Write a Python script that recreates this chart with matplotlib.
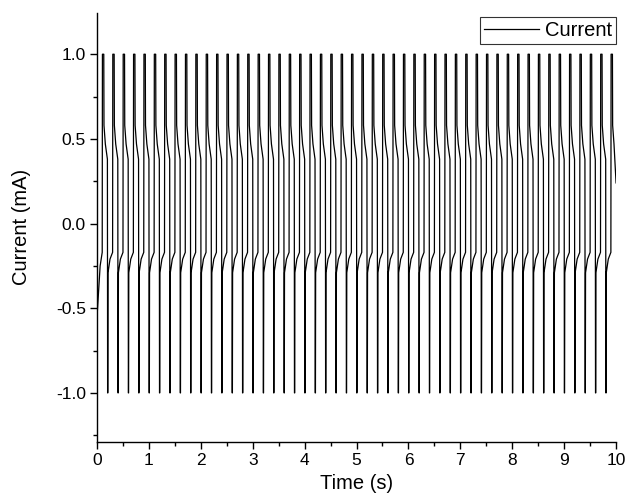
import numpy as np
import matplotlib
matplotlib.use("Agg")
import matplotlib.pyplot as plt
from matplotlib.ticker import MultipleLocator

plt.rcParams['font.family'] = ['Liberation Sans', 'DejaVu Sans']

# one period of the waveform (time offset from cycle start, s)
cycle_t = [0.000, 0.004, 0.030, 0.034, 0.060, 0.100, 0.104, 0.108, 0.112, 0.150]
cycle_i = [-0.17, 1.00, 1.00, 0.58, 0.47, 0.38, -1.00, -1.00, -0.29, -0.21]
period = 0.2
n_cycles = 50
first_cycle = 0.10

# lead-in before the first cycle and the tail at the end
start_t = [0.00, 0.03, 0.06]
start_i = [-0.55, -0.40, -0.25]
end_t = [10.00]
end_i = [0.24]

t = list(start_t)
cur = list(start_i)
for k in range(n_cycles):
    t0 = first_cycle + k * period
    for dt, v in zip(cycle_t, cycle_i):
        if t0 + dt < 10.0:
            t.append(t0 + dt)
            cur.append(v)
t += end_t
cur += end_i

fig = plt.figure(figsize=(6.28, 4.99), dpi=100)
ax = fig.add_axes([0.1545, 0.1142, 0.8265, 0.8603])
ax.plot(t, cur, color='black', lw=0.9, label='Current')

ax.set_xlim(0, 10)
ax.set_ylim(-1.29, 1.245)
ax.xaxis.set_major_locator(MultipleLocator(1))
ax.xaxis.set_minor_locator(MultipleLocator(0.5))
ax.yaxis.set_major_locator(MultipleLocator(0.5))
ax.yaxis.set_minor_locator(MultipleLocator(0.25))
ax.yaxis.set_major_formatter(plt.FuncFormatter(lambda v, p: f"{v:.1f}"))

for s in ['top', 'right']:
    ax.spines[s].set_visible(False)
for s in ['left', 'bottom']:
    ax.spines[s].set_linewidth(1.0)

ax.tick_params(which='major', direction='out', length=5, width=1, labelsize=12.5, pad=3)
ax.tick_params(which='minor', direction='out', length=3, width=1)

ax.set_xlabel('Time (s)', fontsize=14.5, labelpad=4)
ax.set_ylabel('Current (mA)', fontsize=14.5, labelpad=18)

leg = ax.legend(loc='upper right', fontsize=14.5, frameon=True, fancybox=False,
                borderpad=0.2, handlelength=2.7, handletextpad=0.3,
                bbox_to_anchor=(1.0, 0.99), borderaxespad=0.0)
leg.get_frame().set_edgecolor('black')
leg.get_frame().set_linewidth(0.8)

plt.savefig('out.png', dpi=100)
